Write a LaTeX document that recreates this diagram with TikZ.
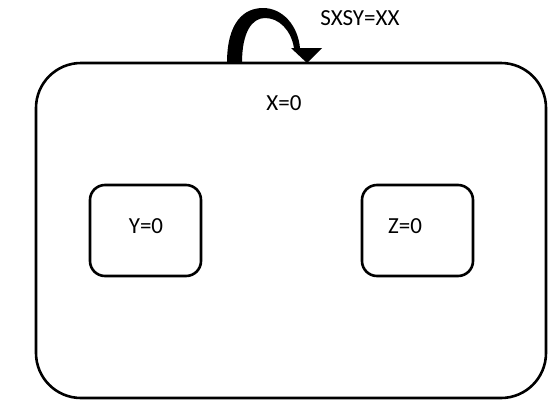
\documentclass[tikz,border=0pt]{standalone}
\usepackage{fontspec}
\setmainfont{Carlito}
\begin{document}
\begin{tikzpicture}[x=1pt,y=-1pt,
  statebox/.style={draw=black, line width=2.6pt, rectangle, inner sep=0pt},
  lbl/.style={font=\fontsize{23}{26}\selectfont, inner sep=0pt, anchor=center}]
\useasboundingbox (0,0) rectangle (552,408);
\node[statebox, rounded corners=45pt, minimum width=510pt, minimum height=335pt] (outer) at (291,230.5) {};
\node[statebox, rounded corners=15pt, minimum width=111pt, minimum height=91pt] (ybox) at (145.5,230.5) {};
\node[statebox, rounded corners=15pt, minimum width=111pt, minimum height=91pt] (zbox) at (417.5,230.5) {};
\node[lbl] (xl) at (284,103) {X=0};
\node[lbl] (yl) at (146,226) {Y=0};
\node[lbl] (zl) at (405,226) {Z=0};
\node[lbl] (sl) at (360,18) {SXSY=XX};
\coordinate (a1) at (227,63);
\coordinate (a2) at (242,63);
\coordinate (tip) at (307,63);
\fill[black] (a1) .. controls (227,22) and (244,8) .. (263,8)
  .. controls (283,8) and (298,26) .. (300,48) -- (322,48) -- (tip) -- (291,48) -- (294,48)
  .. controls (291,30) and (279,18) .. (265,18)
  .. controls (252,18) and (242,32) .. (a2) -- cycle;
\end{tikzpicture}
\end{document}
